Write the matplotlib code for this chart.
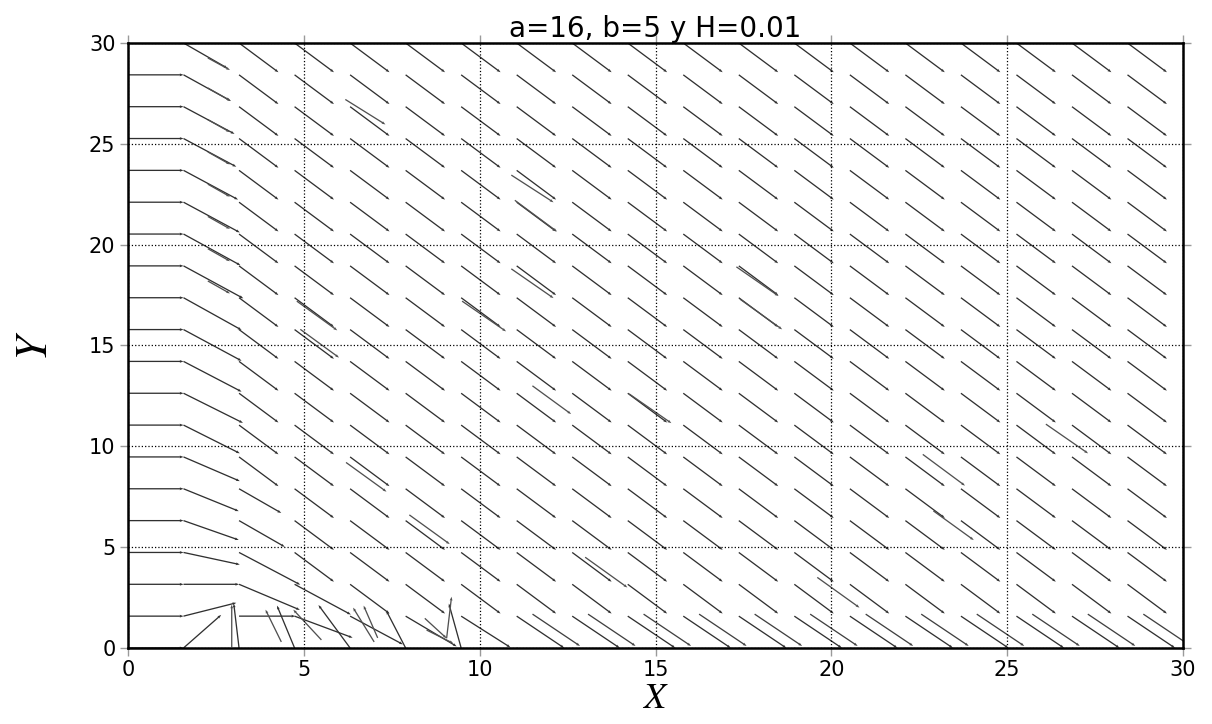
import numpy as np
import matplotlib
matplotlib.use("Agg")
import matplotlib.pyplot as plt

plt.rcParams["mathtext.fontset"] = "stix"

# Sample grid: 20 x 20 points spanning [0, 30] on both axes
n_pts = 20
x_vals = np.linspace(0, 30, n_pts)
y_vals = np.linspace(0, 30, n_pts)

# Displacement shared by the open part of the field
u_bulk, v_bulk = 1.12, -1.45

# Column x = 0: every sample is pushed horizontally to the next column
col0_u, col0_v = 1.58, 0.0

# Column x = 1.58, rows from y = 0 upward
col1_u = [1.07, 1.50, 1.58, 1.60, 1.57, 1.57, 1.60, 1.60, 1.69, 1.65,
          1.65, 1.65, 1.70, 1.62, 1.60, 1.55, 1.50, 1.45, 1.35, 1.25]
col1_v = [1.64, 0.66, 0.00, -0.60, -0.96, -1.11, -1.20, -1.40, -1.47, -1.50,
          -1.55, -1.60, -1.61, -1.55, -1.50, -1.45, -1.40, -1.35, -1.30, -1.25]

# Lower rows near the wall: (column, row, u, v)
near_wall = [
    (2, 0, -0.15, 2.20), (2, 1, 1.60, 0.00), (2, 2, 1.73, -1.27),
    (2, 3, 1.74, -1.60), (2, 4, 1.30, -1.30), (2, 5, 1.20, -1.20),
    (3, 0, -0.50, 2.10), (3, 1, 1.65, -1.07), (3, 2, 1.60, -1.50),
    (4, 0, -0.90, 2.13), (4, 1, 1.50, -1.40),
    (5, 0, -0.55, 1.85), (5, 1, 1.45, -1.50),
    (6, 0, -0.35, 2.20), (6, 1, 1.40, -1.55),
]

# Row y = 1.58 further out: arrows reach the floor
row1_u, row1_v = 1.35, -1.58
# companion arrows beside the row y = 1.58 samples (offset in x, y)
row1_dup_dx, row1_dup_dy = 0.45, 0.10

# Secondary arrows that do not start on the grid: (x0, y0, u, v)
extra_x = [2.27, 2.27, 2.27, 2.27, 2.27, 2.27, 2.27, 2.27,
           6.18, 10.9, 11.0, 4.8, 4.9, 9.5, 10.9, 17.4, 14.25,
           17.3, 26.1, 22.6, 22.9, 11.5, 6.2, 8.0, 13.0, 19.6,
           2.95, 4.36, 5.5, 7.0, 7.1, 8.44, 8.49, 9.06]
extra_y = [29.26, 27.77, 26.20, 24.60, 23.00, 21.40, 19.80, 18.20,
           27.2, 23.45, 22.2, 17.2, 15.8, 17.2, 18.8, 17.3, 12.6,
           18.9, 11.1, 9.6, 6.8, 13.0, 9.2, 6.6, 4.5, 3.5,
           0.05, 0.30, 0.40, 0.30, 0.50, 1.47, 0.89, 0.48]
extra_u = [0.63, 0.63, 0.63, 0.63, 0.63, 0.63, 0.63, 0.63,
           1.14, 1.20, 1.20, 1.15, 1.10, 1.25, 1.20, 1.20, 1.20,
           1.20, 1.20, 1.20, 1.15, 1.10, 1.15, 1.15, 1.20, 1.20,
           0.00, -0.45, -0.80, -0.60, -0.40, 0.62, 0.76, 0.14]
extra_v = [-0.60, -0.62, -0.62, -0.62, -0.62, -0.62, -0.62, -0.62,
           -1.24, -1.35, -1.55, -1.45, -1.40, -1.50, -1.45, -1.50, -1.45,
           -1.45, -1.45, -1.55, -1.45, -1.40, -1.45, -1.45, -1.50, -1.50,
           2.10, 1.60, 1.50, 1.70, 1.60, -0.99, -0.66, 2.06]

title_txt = "a=16, b=5 y H=0.01"
ticks = [0, 5, 10, 15, 20, 25, 30]

# Assemble the displacement field
X, Y = np.meshgrid(x_vals, y_vals)       # Y[row, col]
U = np.full(X.shape, u_bulk)
V = np.full(X.shape, v_bulk)
U[:, 0] = col0_u
V[:, 0] = col0_v
U[:, 1] = col1_u
V[:, 1] = col1_v
U[1, 7:] = row1_u
V[1, 7:] = row1_v
for c, r, u, v in near_wall:
    U[r, c] = u
    V[r, c] = v

dup_x = x_vals[7:-1] + row1_dup_dx
dup_y = np.full(dup_x.shape, y_vals[1] + row1_dup_dy)

fig = plt.figure(figsize=(12.12, 7.24), dpi=100)
ax = fig.add_axes([0.1056, 0.105, 0.8705, 0.8356])

qkw = dict(angles="xy", scale_units="xy", scale=1, units="dots",
           width=1.3, headwidth=2.2, headlength=3.0, headaxislength=2.6,
           pivot="tail")
ax.quiver(X, Y, U, V, color="#303030", **qkw)
ax.quiver(extra_x, extra_y, extra_u, extra_v, color="#505050", **qkw)
ax.quiver(dup_x, dup_y, np.full(dup_x.shape, row1_u),
          np.full(dup_x.shape, row1_v), color="#404040", **qkw)

ax.set_xlim(0, 30)
ax.set_ylim(0, 30)
ax.set_xticks(ticks)
ax.set_yticks(ticks)
ax.tick_params(axis="both", which="major", direction="out", length=6,
               width=1, color="#9a9a9a", labelsize=15, pad=3,
               top=True, right=True)
ax.grid(True, color="black", linestyle=":", linewidth=0.9)
for s in ax.spines.values():
    s.set_linewidth(1.8)
    s.set_color("black")

ax.set_xlabel(r"$X$", fontsize=26)
ax.set_ylabel(r"$Y$", fontsize=32)
ax.xaxis.set_label_coords(0.5, -0.054)
ax.yaxis.set_label_coords(-0.068, 0.5)
ax.set_title(title_txt, fontsize=20, pad=4)

fig.savefig("out.png", dpi=100)
